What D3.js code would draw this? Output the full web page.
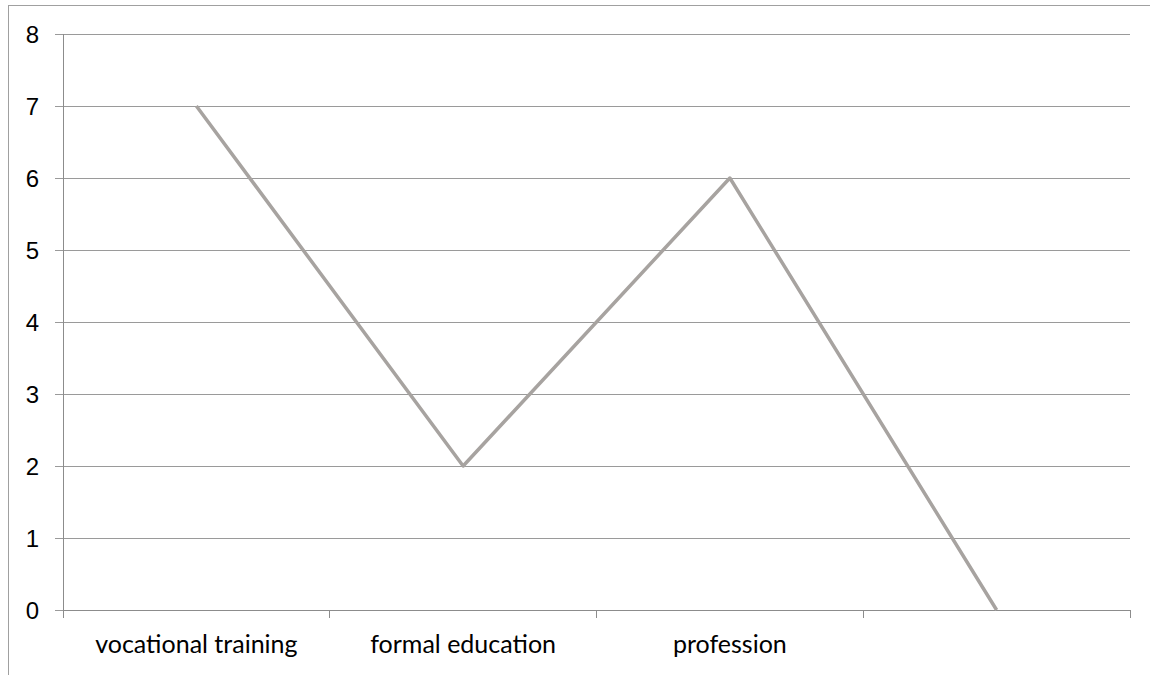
<!DOCTYPE html>
<html>
<head>
<meta charset="utf-8">
<script src="https://cdn.jsdelivr.net/npm/d3@7"></script>
<style>
  html, body { margin: 0; padding: 0; background: #fff; }
  svg { display: block; font-family: Lato, "Open Sans", sans-serif; }
</style>
</head>
<body>
<svg id="chart" width="1150" height="675"></svg>
<script>
// Chart data
const categories = ["vocational training", "formal education", "profession", ""];
const values = [7, 2, 6, 0];
const yTicks = [0, 1, 2, 3, 4, 5, 6, 7, 8];

const svg = d3.select("#chart");
const W = 1150, H = 675;
const margin = { left: 63, top: 34 };
const plotRight = 1130;
const plotBottom = 610;

// Outer frame (top and left edges)
svg.append("line").attr("x1", 8).attr("x2", W).attr("y1", 5.5).attr("y2", 5.5)
  .attr("stroke", "#a0a0a0").attr("stroke-width", 1);
svg.append("line").attr("x1", 8.5).attr("x2", 8.5).attr("y1", 5).attr("y2", H)
  .attr("stroke", "#a0a0a0").attr("stroke-width", 1);

const x = d3.scaleBand().domain(categories.map((d, i) => i)).range([margin.left, plotRight]);
const y = d3.scaleLinear().domain([0, 8]).range([plotBottom, margin.top]);

// Horizontal gridlines with left tick stubs and labels
const yAxis = d3.axisLeft(y).tickValues(yTicks).tickSize(-(plotRight - margin.left)).tickSizeOuter(0).tickPadding(24);
const gy = svg.append("g").attr("transform", `translate(${margin.left},0)`).call(yAxis);
gy.select(".domain").remove();
gy.selectAll(".tick line").attr("stroke", "#9a9a9a").attr("x1", -8).attr("shape-rendering", "crispEdges");
gy.selectAll(".tick text").attr("fill", "#000").style("font-size", "24px").attr("dy", "0.36em");

// Vertical axis line
svg.append("line").attr("x1", margin.left).attr("x2", margin.left)
  .attr("y1", margin.top).attr("y2", plotBottom + 8)
  .attr("stroke", "#8c8c8c").attr("shape-rendering", "crispEdges");

// Category axis: ticks at band boundaries
const xAxisG = svg.append("g");
xAxisG.append("line").attr("x1", margin.left).attr("x2", plotRight)
  .attr("y1", plotBottom).attr("y2", plotBottom)
  .attr("stroke", "#8c8c8c").attr("shape-rendering", "crispEdges");
const boundaries = categories.map((d, i) => x(i)).concat([plotRight]);
xAxisG.selectAll("line.tk").data(boundaries).join("line").attr("class", "tk")
  .attr("x1", d => d).attr("x2", d => d)
  .attr("y1", plotBottom).attr("y2", plotBottom + 8)
  .attr("stroke", "#8c8c8c").attr("shape-rendering", "crispEdges");
xAxisG.selectAll("text").data(categories).join("text")
  .attr("x", (d, i) => x(i) + x.bandwidth() / 2)
  .attr("y", plotBottom + 43)
  .attr("text-anchor", "middle")
  .style("font-size", "25px")
  .attr("fill", "#000")
  .text(d => d);

// Series line
const line = d3.line().x((d, i) => x(i) + x.bandwidth() / 2).y(d => y(d));
svg.append("path").datum(values)
  .attr("d", line)
  .attr("fill", "none")
  .attr("stroke", "#a7a3a0")
  .attr("stroke-width", 3.5)
  .attr("stroke-linejoin", "round");
</script>
</body>
</html>
